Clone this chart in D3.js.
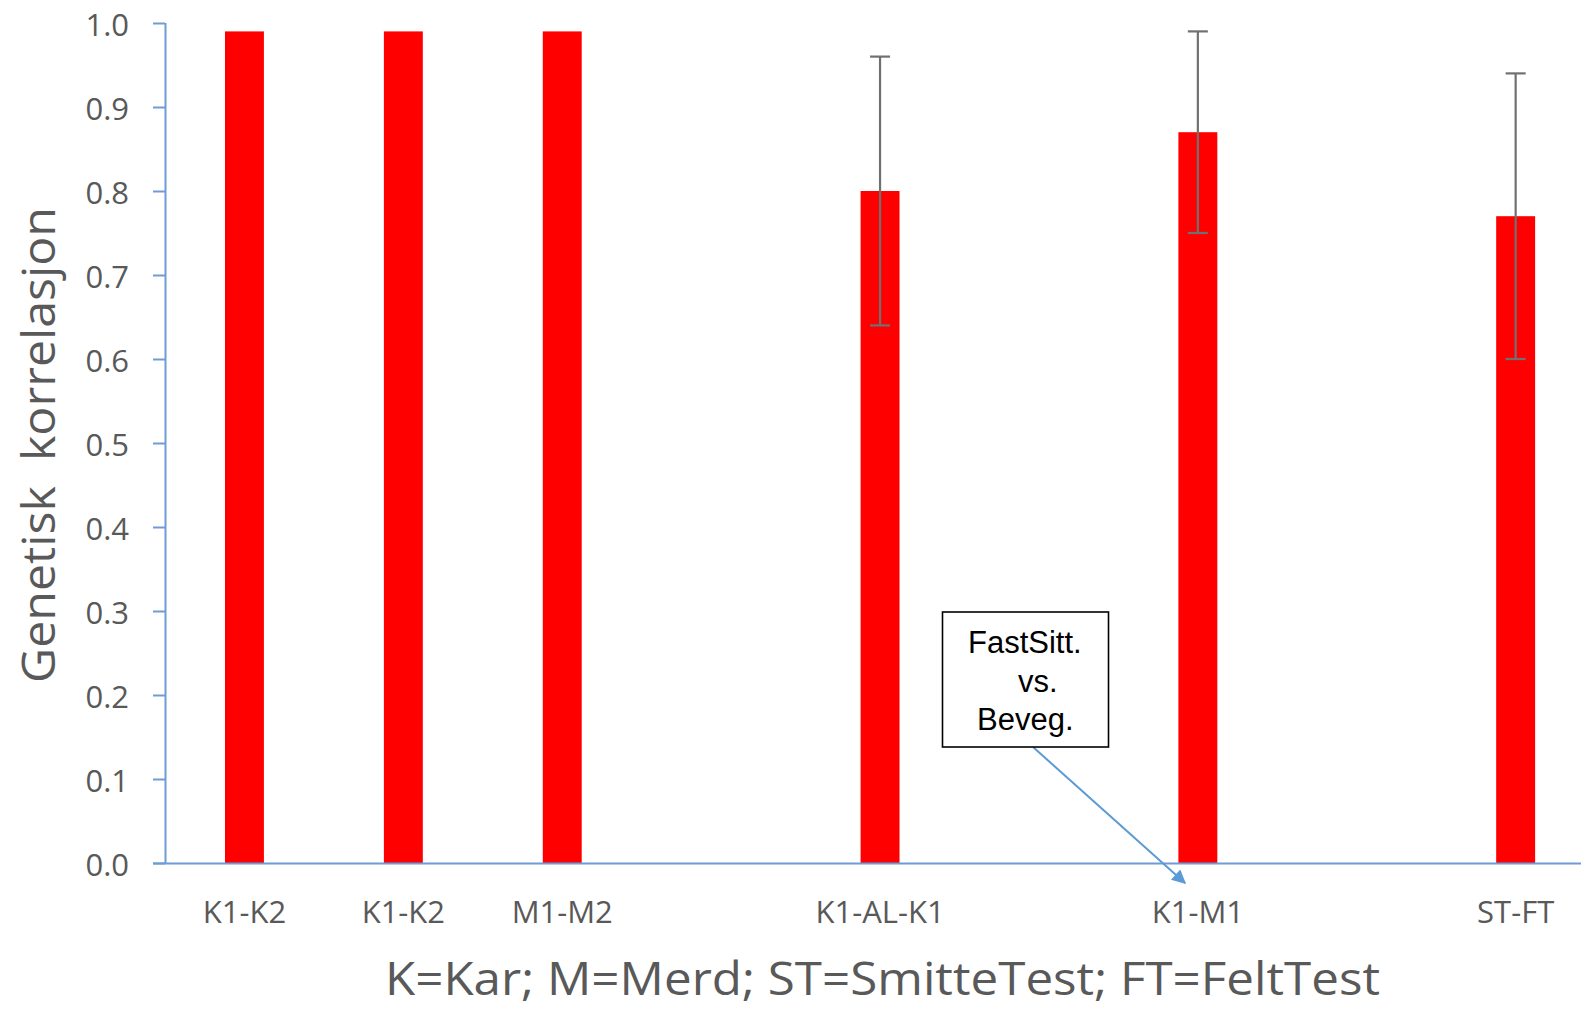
<!DOCTYPE html>
<html>
<head>
<meta charset="utf-8">
<script src="https://cdn.jsdelivr.net/npm/d3@7"></script>
<style>
  html, body { margin: 0; padding: 0; background: #ffffff; }
  svg { display: block; }
</style>
</head>
<body>
<svg id="chart" width="1581" height="1009"></svg>
<script>
// ---- data ----
const categories = ["K1-K2", "K1-K2", "M1-M2", "", "K1-AL-K1", "", "K1-M1", "", "ST-FT"];
const values     = [0.99, 0.99, 0.99, null, 0.80, null, 0.87, null, 0.77];
const errLow     = [null, null, null, null, 0.64, null, 0.75, null, 0.60];
const errHigh    = [null, null, null, null, 0.96, null, 0.99, null, 0.94];
const yTicks     = [0, 0.1, 0.2, 0.3, 0.4, 0.5, 0.6, 0.7, 0.8, 0.9, 1.0];
const yTitle     = "Genetisk\u00A0\u00A0korrelasjon";
const xTitle     = "K=Kar; M=Merd; ST=SmitteTest; FT=FeltTest";
const noteLines  = ["FastSitt.", "vs.", "Beveg."];

(function () {
// ---- layout ----
const svg = d3.select("#chart");
const pLeft = 165, pTop = 23, pBottom = 863, step = 158.9;
const textColor = "#595959";
const axisColor = "#6f9bd6";

const x = d3.scaleBand()
  .domain(categories.map((d, i) => i))
  .range([pLeft, pLeft + step * categories.length])
  .paddingInner(0).paddingOuter(0);
const barW = x.bandwidth() * 0.245;

const y = d3.scaleLinear().domain([0, 1]).range([pBottom, pTop]);

const data = categories.map((c, i) => ({i, c, v: values[i], lo: errLow[i], hi: errHigh[i]}));

// bars
svg.append("g").selectAll("rect")
  .data(data.filter(d => d.v != null))
  .join("rect")
  .attr("x", d => x(d.i) + x.bandwidth() / 2 - barW / 2)
  .attr("y", d => y(d.v))
  .attr("width", barW)
  .attr("height", d => y(0) - y(d.v))
  .attr("fill", "#ff0000");

// error bars
const eg = svg.append("g").attr("stroke", "#707070").attr("stroke-width", 2.2).attr("fill", "none");
data.filter(d => d.lo != null).forEach(d => {
  const cx = x(d.i) + x.bandwidth() / 2;
  eg.append("line").attr("x1", cx).attr("x2", cx).attr("y1", y(d.hi)).attr("y2", y(d.lo));
  eg.append("line").attr("x1", cx - 10).attr("x2", cx + 10).attr("y1", y(d.hi)).attr("y2", y(d.hi));
  eg.append("line").attr("x1", cx - 10).attr("x2", cx + 10).attr("y1", y(d.lo)).attr("y2", y(d.lo));
});

// y axis
const yAxis = d3.axisLeft(y).tickValues(yTicks).tickFormat(d3.format(".1f")).tickSize(12).tickPadding(24);
const yg = svg.append("g").attr("transform", `translate(${pLeft},0)`).call(yAxis);
yg.select(".domain").attr("stroke", axisColor).attr("stroke-width", 2).attr("d", `M0.5,${pTop}V${pBottom}`);
yg.selectAll(".tick line").attr("stroke", axisColor).attr("stroke-width", 2);
yg.selectAll(".tick text")
  .attr("fill", textColor)
  .attr("font-family", "'Open Sans', sans-serif")
  .attr("font-size", 31)
  .attr("dy", null)
  .attr("dominant-baseline", "central");

// x axis
const xAxis = d3.axisBottom(x).tickFormat(i => categories[i]).tickSize(0).tickPadding(38);
const xg = svg.append("g").attr("transform", `translate(0,${pBottom})`).call(xAxis);
xg.select(".domain").attr("stroke", axisColor).attr("stroke-width", 2).attr("d", `M${pLeft - 12},0.5H1581`);
xg.selectAll(".tick text")
  .attr("fill", textColor)
  .attr("font-family", "'Open Sans', sans-serif")
  .attr("font-size", 31)
  .attr("dy", null)
  .attr("y", 60);

// axis titles
svg.append("text")
  .attr("transform", "translate(55,445) rotate(-90)")
  .attr("text-anchor", "middle")
  .attr("fill", textColor)
  .attr("font-family", "'Open Sans', sans-serif")
  .attr("font-size", 45)
  .attr("textLength", 476)
  .attr("lengthAdjust", "spacingAndGlyphs")
  .text(yTitle);

svg.append("text")
  .attr("x", 385).attr("y", 995)
  .attr("fill", textColor)
  .attr("font-family", "'Open Sans', sans-serif")
  .attr("font-size", 46)
  .attr("textLength", 995)
  .attr("lengthAdjust", "spacingAndGlyphs")
  .text(xTitle);

// annotation with arrow
const defs = svg.append("defs");
defs.append("marker")
  .attr("id", "arrowhead")
  .attr("viewBox", "0 0 10 10")
  .attr("refX", 9).attr("refY", 5)
  .attr("markerWidth", 9).attr("markerHeight", 7)
  .attr("markerUnits", "strokeWidth")
  .attr("orient", "auto")
  .append("path").attr("d", "M0,0L10,5L0,10Z").attr("fill", "#5b9bd5");

svg.append("line")
  .attr("x1", 1033).attr("y1", 747)
  .attr("x2", 1185).attr("y2", 883)
  .attr("stroke", "#5b9bd5").attr("stroke-width", 2)
  .attr("marker-end", "url(#arrowhead)");

svg.append("rect")
  .attr("x", 942.5).attr("y", 612).attr("width", 166).attr("height", 135)
  .attr("fill", "#ffffff").attr("stroke", "#000000").attr("stroke-width", 1.6);

const noteX = [968, 1018, 977];
const noteY = [653, 691.5, 730];
svg.append("g").selectAll("text")
  .data(noteLines)
  .join("text")
  .attr("x", (d, i) => noteX[i])
  .attr("y", (d, i) => noteY[i])
  .attr("fill", "#000000")
  .attr("font-family", "'Liberation Sans', Arial, sans-serif")
  .attr("font-size", 31)
  .text(d => d);
})();
</script>
</body>
</html>
